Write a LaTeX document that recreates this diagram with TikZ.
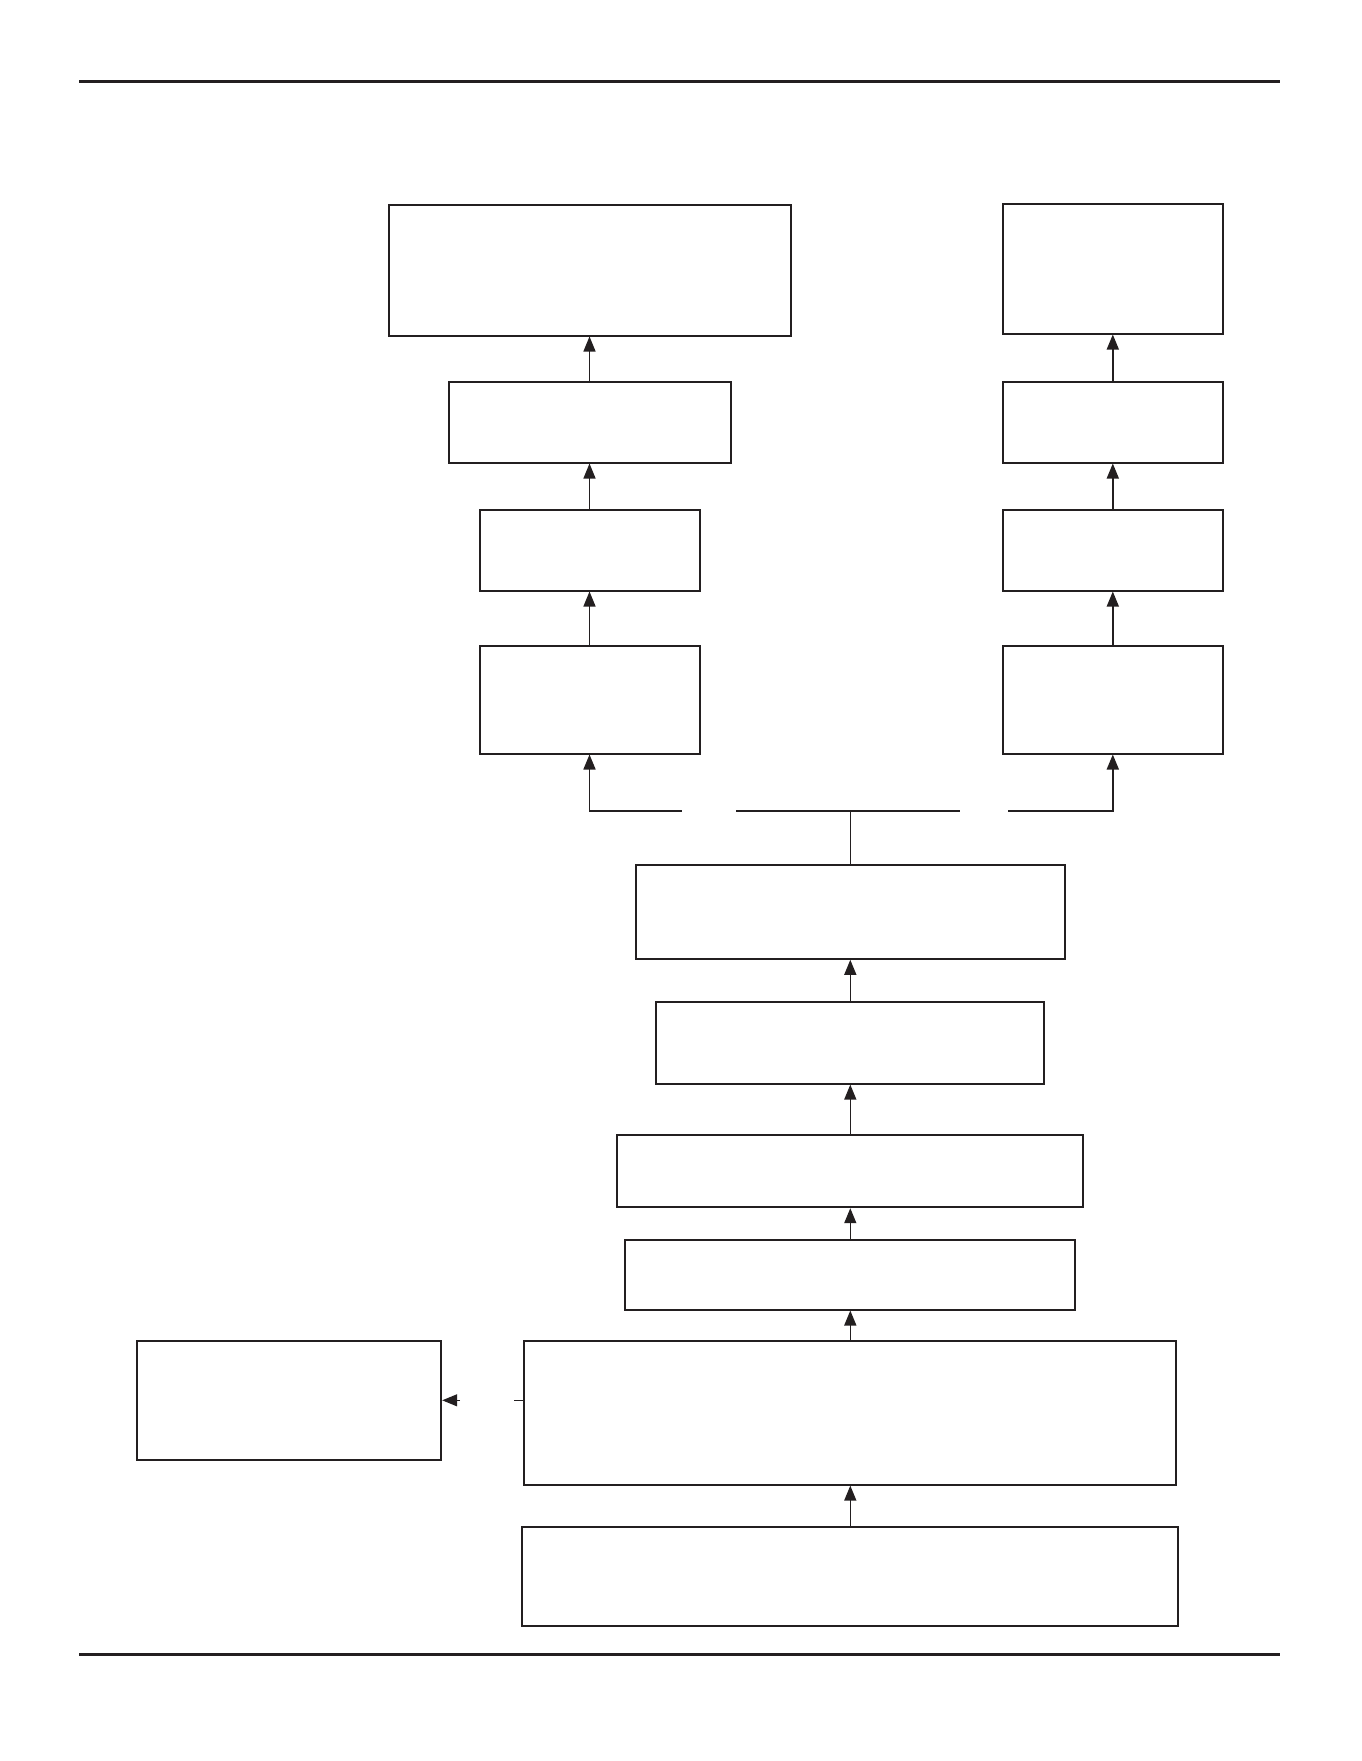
\documentclass[tikz,border=0pt]{standalone}
\usepackage{xcolor}
\definecolor{ink}{HTML}{231F20}
\usepackage{tikz}
\usetikzlibrary{arrows.meta, calc}

\begin{document}
\begin{tikzpicture}[x=1pt, y=-1pt,
    box/.style={draw=ink, line width=2pt, inner sep=0pt, fill=white},
    link/.style={draw=ink, line width=1.4pt},
    tip/.style={link, -{Triangle[length=15pt, width=12pt]}}]
            \useasboundingbox (0,0) rectangle (1361,1761);
            % page rules
            \draw[ink, line width=3pt] (79,81) -- (1280,81);
            \draw[ink, line width=3pt] (79,1654) -- (1280,1654);
            % left column
            \node[box, minimum width=402pt, minimum height=131pt] (a1) at (589.5,270) {};
            \node[box, minimum width=282pt, minimum height=81pt] (a2) at (589.5,422) {};
            \node[box, minimum width=220pt, minimum height=81pt] (a3) at (589.5,550) {};
            \node[box, minimum width=220pt, minimum height=108pt] (a4) at (589.5,699.5) {};
            % right column
            \node[box, minimum width=220pt, minimum height=130pt] (b1) at (1112.8,268.5) {};
            \node[box, minimum width=220pt, minimum height=81pt] (b2) at (1112.8,422) {};
            \node[box, minimum width=220pt, minimum height=81pt] (b3) at (1112.8,550) {};
            \node[box, minimum width=220pt, minimum height=108pt] (b4) at (1112.8,699.5) {};
            % centre column
            \node[box, minimum width=429pt, minimum height=94pt] (c1) at (850.3,911.8) {};
            \node[box, minimum width=388pt, minimum height=82pt] (c2) at (850.3,1042.6) {};
            \node[box, minimum width=466pt, minimum height=72pt] (c3) at (850.3,1171.2) {};
            \node[box, minimum width=450pt, minimum height=70pt] (c4) at (850.3,1274.5) {};
            \node[box, minimum width=652pt, minimum height=144pt] (c5) at (850.3,1412.6) {};
            \node[box, minimum width=656pt, minimum height=99pt] (c6) at (850.3,1576.6) {};
            \node[box, minimum width=304pt, minimum height=119pt] (side) at (289.2,1400.3) {};
            % stacked arrows, from the lower box up to the one above
            \foreach \src/\dst in {a2/a1, a3/a2, a4/a3, b2/b1, b3/b2, b4/b3, c2/c1, c3/c2, c4/c3, c5/c4, c6/c5}
                \draw[tip] (\src.north) -- (\dst.south);
            % split above c1
            \coordinate (split) at (850.3,811);
            \coordinate (gapL1) at (735.5,811);
            \coordinate (gapL2) at (681.6,811);
            \coordinate (gapR1) at (960,811);
            \coordinate (gapR2) at (1008.4,811);
            \draw[link, line width=1pt] (c1.north) -- (split);
            \draw[link, line width=1.7pt] (split) -- (gapL1);
            \draw[link, line width=1.7pt] (split) -- (gapR1);
            \draw[tip, line width=1.7pt] (gapL2) -| (a4.south);
            \draw[tip, line width=1.7pt] (gapR2) -| (b4.south);
            % side branch
            \coordinate (stub) at (514,1400.3);
            \coordinate (stubEnd) at (460,1400.3);
            \draw[link, line width=1pt] (c5.west |- stub) -- (stub);
            \draw[tip, line width=1.2pt] (stubEnd) -- (side.east);
        \end{tikzpicture}
\end{document}
